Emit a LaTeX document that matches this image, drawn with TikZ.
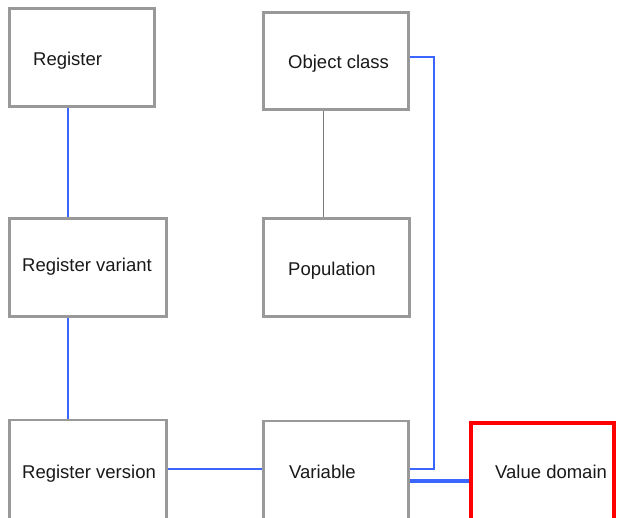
\documentclass[tikz,border=0pt]{standalone}
\usepackage{fontspec}
\setmainfont{Liberation Sans}
\usetikzlibrary{calc}
\definecolor{boxgray}{RGB}{153,153,153}
\definecolor{linkblue}{RGB}{58,102,255}
\begin{document}
\begin{tikzpicture}[x=1pt,y=-1pt,
  entity/.style={draw=boxgray,line width=2.5pt,fill=white,rectangle,inner sep=0pt},
  redbox/.style={draw=red,line width=4pt,fill=white,rectangle,inner sep=0pt},
  boxtext/.style={anchor=base west,inner sep=0pt,font=\fontsize{18.5}{22}\selectfont,text=black!90},
  link/.style={draw=linkblue,line width=2.6pt},
  thinlink/.style={draw=boxgray!80!black,line width=0.9pt}]
\useasboundingbox (0,0) rectangle (618,518);
\clip (0,0) rectangle (618,518);
% entity boxes
\node[entity,minimum width=145pt,minimum height=98pt] (reg)  at (82,57.5) {};
\node[entity,minimum width=145pt,minimum height=97pt] (oc)   at (336,61) {};
\node[entity,minimum width=157pt,minimum height=98pt] (rv)   at (88,267.5) {};
\node[entity,minimum width=146pt,minimum height=98pt] (pop)  at (336.5,267.5) {};
\node[entity,minimum width=157pt,minimum height=120pt] (rver) at (88,480) {};
\node[entity,minimum width=145pt,minimum height=120pt] (var)  at (336,481) {};
\node[redbox,minimum width=143pt,minimum height=120pt] (vd)  at (542.5,483) {};
% labels
\node[boxtext] at (33,66)  {Register};
\node[boxtext] at (288,69) {Object class};
\node[boxtext] at (22,272) {Register variant};
\node[boxtext] at (288,276) {Population};
\node[boxtext] at (22,478) {Register version};
\node[boxtext] at (289,478) {Variable};
\node[boxtext] at (495,478) {Value domain};
% routing guides
\coordinate (regline) at (68,0);
\coordinate (popline) at (323,0);
\coordinate (ocbend) at (434,0);
\coordinate (ocrow) at (0,57);
\coordinate (varrow) at (0,469);
\coordinate (vdrow) at (0,481);
% connectors
\draw[link] (reg.south -| regline) -- (rv.north -| regline);
\draw[link] (rv.south -| regline) -- (rver.north -| regline);
\draw[thinlink] (oc.south -| popline) -- (pop.north -| popline);
\draw[link] (rver.east |- varrow) -- (var.west |- varrow);
\draw[link] (var.east |- varrow) -- (ocbend |- varrow) -- (ocbend |- ocrow) -- (oc.east |- ocrow);
\draw[link,line width=3.8pt] (var.east |- vdrow) -- (vd.west |- vdrow);
\end{tikzpicture}
\end{document}
